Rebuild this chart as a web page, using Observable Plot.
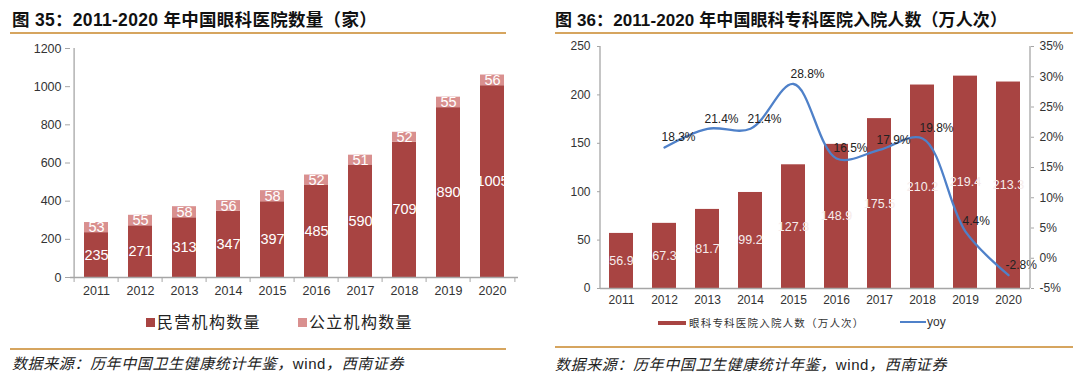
<!DOCTYPE html>
<html>
<head>
<meta charset="utf-8">
<script src="https://cdn.jsdelivr.net/npm/d3@7"></script>
<script src="https://cdn.jsdelivr.net/npm/@observablehq/plot@0.6"></script>
<style>
  html, body { margin: 0; padding: 0; background: #fff; }
  body { width: 1080px; height: 372px; position: relative; overflow: hidden;
         font-family: "Liberation Sans", "Noto Sans CJK SC", sans-serif; }
  .abs { position: absolute; }
  .title { font-size: 17.5px; font-weight: bold; color: #111; white-space: nowrap; letter-spacing: 0.3px; }
  .rule { height: 2px; background: #D6A55F; }
  .source { font-size: 15px; font-style: italic; color: #222; white-space: nowrap; letter-spacing: 0.6px; }
  .leg { font-size: 16px; color: #222; white-space: nowrap; letter-spacing: 1.3px; font-family: "Noto Sans CJK SC", sans-serif; }
  .leg2 { font-size: 10.5px; color: #333; white-space: nowrap; letter-spacing: 1.2px; font-family: "Noto Sans CJK SC", sans-serif; }
  .sw { display: inline-block; }
</style>
</head>
<body>
<div class="abs title" style="left:12px; top:6px;">图 35：2011-2020 年中国眼科医院数量（家）</div>
<div class="abs rule" style="left:10px; top:32px; width:496px;"></div>
<div class="abs title" style="left:555px; top:6px; font-size:17px; letter-spacing:0.1px;">图 36：2011-2020 年中国眼科专科医院入院人数（万人次）</div>
<div class="abs rule" style="left:555px; top:32px; width:518px;"></div>

<div id="left" class="abs" style="left:0px; top:40px;"></div>
<div id="right" class="abs" style="left:540px; top:36px;"></div>

<div class="abs leg" style="left:146px; top:309px;"><span class="sw" style="width:9px;height:9px;background:#A84442;margin-right:2px;vertical-align:1px;"></span>民营机构数量</div>
<div class="abs leg" style="left:298px; top:309px;"><span class="sw" style="width:9px;height:9px;background:#D9908F;margin-right:2px;vertical-align:1px;"></span>公立机构数量</div>

<div class="abs leg2" style="left:658px; top:315px;"><span class="sw" style="width:28px;height:4px;background:#A84442;margin-right:3px;vertical-align:2px;"></span>眼科专科医院入院人数（万人次）</div>
<div class="abs leg2" style="left:900px; top:315px; font-family:'Liberation Sans',sans-serif; font-size:12px; letter-spacing:0;"><span class="sw" style="width:26px;height:2px;background:#4F81C9;margin-right:1px;vertical-align:3px;"></span>yoy</div>

<div class="abs rule" style="left:10px; top:348px; width:496px;"></div>
<div class="abs source" style="left:12px; top:352px;">数据来源：历年中国卫生健康统计年鉴，<span style="font-style:normal;font-family:'Liberation Sans';">wind</span>，西南证券</div>
<div class="abs rule" style="left:555px; top:346px; width:518px;"></div>
<div class="abs source" style="left:555px; top:353px;">数据来源：历年中国卫生健康统计年鉴，<span style="font-style:normal;font-family:'Liberation Sans';">wind</span>，西南证券</div>

<script>
// ---- Data ----
const years = ["2011","2012","2013","2014","2015","2016","2017","2018","2019","2020"];
const privateCounts = [235, 271, 313, 347, 397, 485, 590, 709, 890, 1005]; // 民营机构数量
const publicCounts  = [53, 55, 58, 56, 58, 52, 51, 52, 55, 56];            // 公立机构数量
const seriesNames = ["民营机构数量", "公立机构数量"];
const admissions = [56.9, 67.3, 81.7, 99.2, 127.8, 148.9, 175.5, 210.2, 219.4, 213.3]; // 万人次
const yoy = [null, 18.3, 21.4, 21.4, 28.8, 16.5, 17.9, 19.8, 4.4, -2.8]; // %
const leftTicks = [0, 200, 400, 600, 800, 1000, 1200];
const rightTicks = [0, 50, 100, 150, 200, 250];
const pctTicks = [-5, 0, 5, 10, 15, 20, 25, 30, 35];

const RED = "#A84442", PINK = "#D9908F", BLUE = "#4F81C9", AXIS = "#A6A6A6";
const FONT = "Liberation Sans, Arial, sans-serif";

// ---- Left chart: stacked bars ----
const stackData = [];
years.forEach((y, i) => {
  stackData.push({year: y, series: seriesNames[0], value: privateCounts[i]});
  stackData.push({year: y, series: seriesNames[1], value: publicCounts[i]});
});
{
  const W = 530, ml = 70, mr = 12;
  const step = (W - ml - mr) / years.length;
  const chart = Plot.plot({
    width: W, height: 267,
    marginTop: 8, marginLeft: ml, marginRight: mr, marginBottom: 30,
    style: {fontFamily: FONT, fontSize: "12.5px", color: "#333", background: "transparent"},
    x: {domain: years, paddingInner: 0.46, paddingOuter: 0.23, axis: null, label: null},
    y: {domain: [0, 1200], axis: null, label: null},
    color: {domain: seriesNames, range: [RED, PINK]},
    marks: [
      Plot.barY(stackData, {x: "year", y: "value", fill: "series", order: seriesNames}),
      Plot.text(stackData, Plot.stackY({x: "year", y: "value", z: "series", order: seriesNames,
        text: d => String(d.value), fill: "white", fontSize: 14.5, fontFamily: FONT})),
      Plot.ruleY([0], {stroke: AXIS, strokeWidth: 1.3}),
      Plot.ruleX([years[0]], {dx: -step / 2, stroke: AXIS, strokeWidth: 1.3}),
      Plot.axisY(leftTicks, {label: null, tickSize: 5, tickPadding: 4, stroke: AXIS, fill: "#333",
        fontSize: 12.5, tickFormat: d => String(d)}),
      Plot.axisX({label: null, tickSize: 0, tickPadding: 9, fill: "#333", fontSize: 12.5}),
      Plot.axisX(years, {label: null, tickSize: 5, dx: -step / 2, tickFormat: () => "", stroke: AXIS}),
      Plot.axisX([years[years.length - 1]], {label: null, tickSize: 5, dx: step / 2, tickFormat: () => "", stroke: AXIS})
    ]
  });
  document.getElementById("left").appendChild(chart);
}

// ---- Right chart: bars + yoy line on secondary axis ----
{
  const W = 540, ml = 60, mr = 50;
  const step = (W - ml - mr) / years.length;
  const yMax = 250, pMin = -5, pMax = 35;
  const toLeft = p => (p - pMin) / (pMax - pMin) * yMax;
  const fromLeft = v => v / yMax * (pMax - pMin) + pMin;
  const barData = years.map((y, i) => ({year: y, value: admissions[i]}));
  const yoyData = years.map((y, i) => ({year: y, pct: yoy[i]})).filter(d => d.pct !== null);
  const chart = Plot.plot({
    width: W, height: 282,
    marginTop: 10, marginLeft: ml, marginRight: mr, marginBottom: 30,
    style: {fontFamily: FONT, fontSize: "12px", color: "#333", background: "transparent"},
    x: {domain: years, paddingInner: 0.44, paddingOuter: 0.22, axis: null, label: null},
    y: {domain: [0, yMax], axis: null, label: null},
    marks: [
      Plot.barY(barData, {x: "year", y: "value", fill: RED}),
      Plot.text(barData, {x: "year", y: d => d.value / 2, text: d => d.value.toFixed(1),
        fill: "#F6ECEC", fontSize: 12.5, fontFamily: FONT}),
      Plot.line(yoyData, {x: "year", y: d => toLeft(d.pct), curve: "catmull-rom",
        stroke: BLUE, strokeWidth: 2.3}),
      Plot.text(yoyData, {x: "year", y: d => toLeft(d.pct), text: d => d.pct.toFixed(1) + "%",
        textAnchor: "start", dx: -3, dy: -10, fill: "#222", fontSize: 12, fontFamily: FONT}),
      Plot.ruleY([0], {stroke: AXIS, strokeWidth: 1.3}),
      Plot.ruleX([years[0]], {dx: -step / 2, stroke: AXIS, strokeWidth: 1.3}),
      Plot.ruleX([years[years.length - 1]], {dx: step / 2, stroke: AXIS, strokeWidth: 1.3}),
      Plot.axisY(rightTicks, {anchor: "left", label: null, tickSize: 3, tickPadding: 7, stroke: AXIS,
        fill: "#333", fontSize: 12, tickFormat: d => String(d)}),
      Plot.axisY(pctTicks.map(toLeft), {anchor: "right", label: null, tickSize: 3, tickPadding: 6, stroke: AXIS,
        fill: "#333", fontSize: 12, tickFormat: v => Math.round(fromLeft(v)) + "%"}),
      Plot.axisX({label: null, tickSize: 0, tickPadding: 7, fill: "#333", fontSize: 12})
    ]
  });
  document.getElementById("right").appendChild(chart);
}
</script>
</body>
</html>
